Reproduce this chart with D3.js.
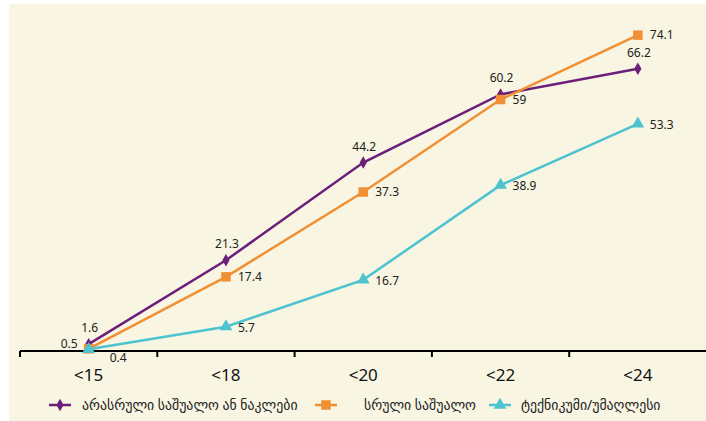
<!DOCTYPE html>
<html>
<head>
<meta charset="utf-8">
<script src="https://cdn.jsdelivr.net/npm/d3@7"></script>
<style>
  body { margin: 0; background: #fff; }
  svg { display: block; }
  text { font-family: "Noto Sans", "DejaVu Sans", sans-serif; fill: #222; }
</style>
</head>
<body>
<script>
let categories = ["<15", "<18", "<20", "<22", "<24"];
let incomplete = [1.6, 21.3, 44.2, 60.2, 66.2];
let secondary = [0.5, 17.4, 37.3, 59, 74.1];
let higher = [0.4, 5.7, 16.7, 38.9, 53.3];
let seriesNames = ["არასრული საშუალო ან ნაკლები", "სრული საშუალო", "ტექნიკუმი/უმაღლესი"];

let size = {width: 706, height: 421};
let svg = d3.select("body").append("svg")
    .attr("width", size.width)
    .attr("height", size.height);

svg.append("rect")
    .attr("x", 9).attr("y", 4)
    .attr("width", size.width - 9).attr("height", size.height - 4)
    .attr("fill", "#f8f5e2");

let x = d3.scaleBand().domain(categories).range([20, 706.5]);
let y = d3.scaleLinear().domain([0, 80]).range([351, 10]);

let series = [
    {name: seriesNames[0], values: incomplete, color: "#6b1f7b", shape: d3.symbolDiamond, msize: 45},
    {name: seriesNames[1], values: secondary, color: "#f18f33", shape: d3.symbolSquare, msize: 90},
    {name: seriesNames[2], values: higher, color: "#4cc3cf", shape: d3.symbolTriangle, msize: 70}
];

let cx = c => x(c) + x.bandwidth() / 2;

// axis
let axis = svg.append("g");
axis.append("line")
    .attr("x1", 20).attr("x2", 706)
    .attr("y1", y(0)).attr("y2", y(0))
    .attr("stroke", "#000").attr("stroke-width", 2);
axis.selectAll(".tick")
    .data(categories)
    .join("line")
    .attr("x1", d => x(d)).attr("x2", d => x(d))
    .attr("y1", y(0)).attr("y2", y(0) + 6)
    .attr("stroke", "#000").attr("stroke-width", 2);
axis.selectAll(".cat")
    .data(categories)
    .join("text")
    .attr("x", d => cx(d))
    .attr("y", y(0) + 30)
    .attr("text-anchor", "middle")
    .attr("font-size", 17)
    .style("fill", "#111")
    .text(d => d);

let line = d3.line()
    .x(d => cx(d.cat))
    .y(d => y(d.v));

let groups = svg.selectAll(".series")
    .data(series)
    .join("g");

groups.append("path")
    .attr("d", s => line(s.values.map((v, i) => ({cat: categories[i], v}))))
    .attr("fill", "none")
    .attr("stroke", s => s.color)
    .attr("stroke-width", 2.5);

groups.each(function (s) {
    let g = d3.select(this);
    let pts = s.values.map((v, i) => ({cat: categories[i], v}));
    g.selectAll("path.m")
        .data(pts)
        .join("path")
        .attr("class", "m")
        .attr("transform", d => `translate(${cx(d.cat)},${y(d.v)})`)
        .attr("d", d3.symbol().type(s.shape).size(s.msize))
        .attr("fill", s.color);
});

// value labels
let labels = svg.append("g").attr("font-size", 12);
incomplete.forEach((v, i) => {
    labels.append("text")
        .attr("x", cx(categories[i]) + 1)
        .attr("y", y(v) - 12)
        .attr("text-anchor", "middle")
        .text(v);
});
secondary.forEach((v, i) => {
    let first = i === 0;
    labels.append("text")
        .attr("x", first ? cx(categories[i]) - 11 : cx(categories[i]) + 12)
        .attr("y", first ? y(v) - 1 : y(v) + 4)
        .attr("text-anchor", first ? "end" : "start")
        .text(v);
});
higher.forEach((v, i) => {
    let first = i === 0;
    labels.append("text")
        .attr("x", first ? cx(categories[i]) + 21 : cx(categories[i]) + 12)
        .attr("y", first ? y(v) + 13 : y(v) + 5)
        .attr("text-anchor", "start")
        .text(v);
});

// legend
let legendX = [49, 315, 489];
let textX = [82, 364, 521];
let legend = svg.append("g")
    .selectAll("g")
    .data(series)
    .join("g")
    .attr("transform", (d, i) => `translate(${legendX[i]},405)`);
legend.append("line")
    .attr("x1", 0).attr("x2", 22)
    .attr("stroke", d => d.color).attr("stroke-width", 2.5);
legend.append("path")
    .attr("transform", "translate(11,0)")
    .attr("d", d => d3.symbol().type(d.shape).size(d.msize)())
    .attr("fill", d => d.color);
legend.append("text")
    .attr("x", (d, i) => textX[i] - legendX[i])
    .attr("y", 5)
    .attr("font-size", 13.8)
    .text(d => d.name);
</script>
</body>
</html>
